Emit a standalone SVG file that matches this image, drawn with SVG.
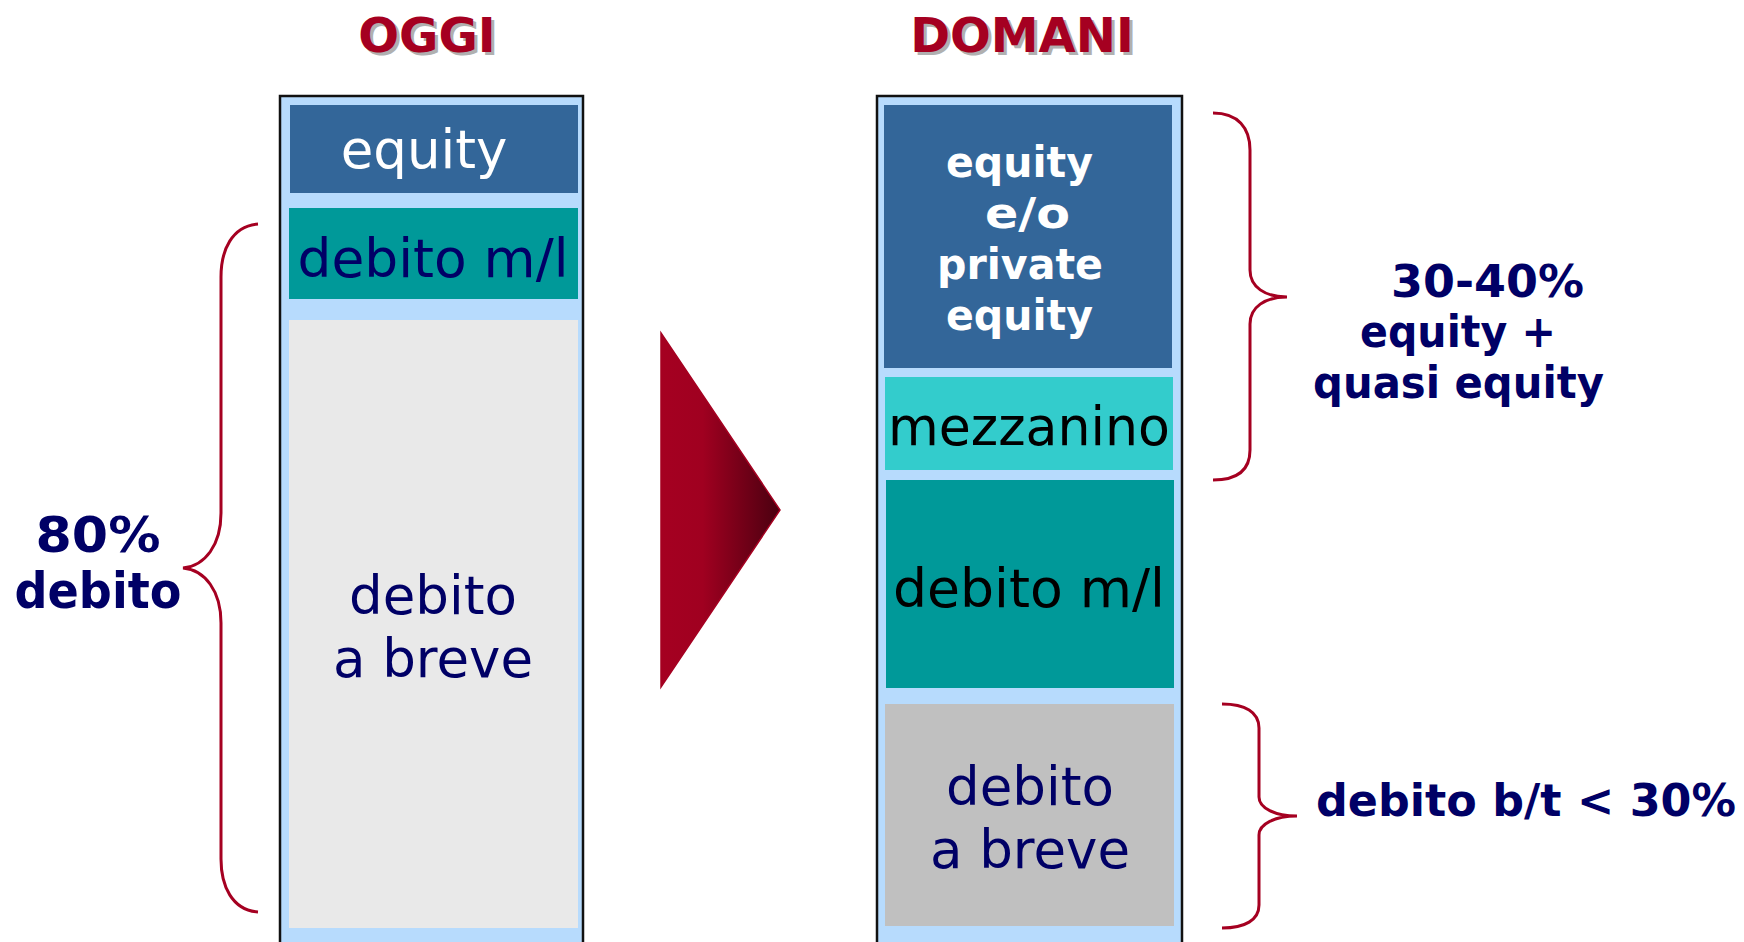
<svg xmlns="http://www.w3.org/2000/svg" width="1744" height="942" viewBox="0 0 1744 942">
<defs>
<linearGradient id="arrowGrad" x1="0" y1="0" x2="1" y2="0">
<stop offset="0" stop-color="#A50021"/>
<stop offset="0.35" stop-color="#A00020"/>
<stop offset="1" stop-color="#4A0010"/>
</linearGradient>
<style>
text{font-family:"DejaVu Sans",Verdana,sans-serif}
.title{font-weight:bold;font-size:48px;fill:#A50021;text-anchor:middle}
.shadow{font-weight:bold;font-size:48px;fill:#B0B0B0;text-anchor:middle}
.col{fill:#B7DBFD;stroke:#111;stroke-width:2.5}
.eq{fill:#336699}
.teal{fill:#009999}
.mez{fill:#33CCCC}
.grey1{fill:#E9E9E9}
.grey2{fill:#C0C0C0}
.lbl{font-size:53px;text-anchor:middle}
.navy{fill:#000066}
.blk{fill:#000}
.wht{fill:#fff}
.bold{font-weight:bold}
.brace{fill:none;stroke:#A50021;stroke-width:3}
</style>
</defs>
<rect width="1744" height="942" fill="#fff"/>

<g id="title-oggi">
<text class="shadow" x="430" y="55">OGGI</text>
<text class="title" x="427" y="52">OGGI</text>
</g>
<g id="title-domani">
<text class="shadow" x="1025" y="55">DOMANI</text>
<text class="title" x="1022" y="52">DOMANI</text>
</g>

<g id="col-oggi">
<rect class="col" x="280" y="96" width="303" height="860"/>
</g>
<g id="oggi-equity">
<rect class="eq" x="290" y="105" width="288" height="88"/>
<text class="lbl wht" x="424" y="168" font-size="52">equity</text>
</g>
<g id="oggi-debito-ml">
<rect class="teal" x="289" y="208" width="289" height="91"/>
<text class="lbl navy" x="433" y="277" textLength="271" lengthAdjust="spacingAndGlyphs">debito m/l</text>
</g>
<g id="oggi-debito-breve">
<rect class="grey1" x="289" y="320" width="289" height="608"/>
<text class="lbl navy" x="433" y="614" font-size="52">debito</text>
<text class="lbl navy" x="433" y="677" font-size="52">a breve</text>
</g>

<g id="arrow">
<polygon points="661,333 780,510 661,687" fill="url(#arrowGrad)" stroke="#A50021" stroke-width="1.5"/>
</g>

<g id="col-domani">
<rect class="col" x="877" y="96" width="305" height="860"/>
</g>
<g id="domani-equity">
<rect class="eq" x="884" y="105" width="288" height="263"/>
<text class="wht bold" font-size="43" x="946" y="177" textLength="147" lengthAdjust="spacingAndGlyphs">equity</text>
<text class="wht bold" font-size="43" x="985" y="228" textLength="85" lengthAdjust="spacingAndGlyphs">e/o</text>
<text class="wht bold" font-size="43" x="937" y="279" textLength="166" lengthAdjust="spacingAndGlyphs">private</text>
<text class="wht bold" font-size="43" x="946" y="330" textLength="147" lengthAdjust="spacingAndGlyphs">equity</text>
</g>
<g id="domani-mezzanino">
<rect class="mez" x="885" y="377" width="288" height="93"/>
<text class="lbl blk" x="1029" y="445" textLength="282" lengthAdjust="spacingAndGlyphs">mezzanino</text>
</g>
<g id="domani-debito-ml">
<rect class="teal" x="886" y="480" width="288" height="208"/>
<text class="lbl blk" x="1029" y="607" textLength="272" lengthAdjust="spacingAndGlyphs">debito m/l</text>
</g>
<g id="domani-debito-breve">
<rect class="grey2" x="885" y="704" width="289" height="222"/>
<text class="lbl navy" x="1030" y="805" font-size="52">debito</text>
<text class="lbl navy" x="1030" y="868" font-size="52">a breve</text>
</g>

<g id="connectors">
<path class="brace" d="M258,224 C232,226 221,250 221,277 L221,513 C221,545 205,566 183,568 C205,570 221,591 221,623 L221,859 C221,886 232,910 258,912"/>
<path class="brace" d="M1213,113 C1238,113 1250,128 1250,150 L1250,270 C1250,287 1265,297 1287,297 C1265,297 1250,307 1250,324 L1250,450 C1250,470 1238,480 1213,480"/>
<path class="brace" d="M1222,704 C1245,704 1259,712 1259,728 L1259,797 C1259,808 1275,816 1297,816 C1275,816 1259,824 1259,835 L1259,905 C1259,920 1245,928 1222,928"/>
</g>

<g id="label-80">
<text class="navy bold" font-size="50" x="98" y="552" text-anchor="middle" textLength="125" lengthAdjust="spacingAndGlyphs">80%</text>
<text class="navy bold" font-size="50" x="98" y="608" text-anchor="middle" textLength="167" lengthAdjust="spacingAndGlyphs">debito</text>
</g>
<g id="label-30-40">
<text class="navy bold" font-size="44" x="1391" y="297" textLength="193" lengthAdjust="spacingAndGlyphs">30-40%</text>
<text class="navy bold" font-size="44" x="1360" y="347" textLength="196" lengthAdjust="spacingAndGlyphs">equity +</text>
<text class="navy bold" font-size="44" x="1313" y="398" textLength="291" lengthAdjust="spacingAndGlyphs">quasi equity</text>
</g>
<g id="label-bt">
<text class="navy bold" font-size="44" x="1316" y="816" textLength="420" lengthAdjust="spacingAndGlyphs">debito b/t &lt; 30%</text>
</g>
</svg>
